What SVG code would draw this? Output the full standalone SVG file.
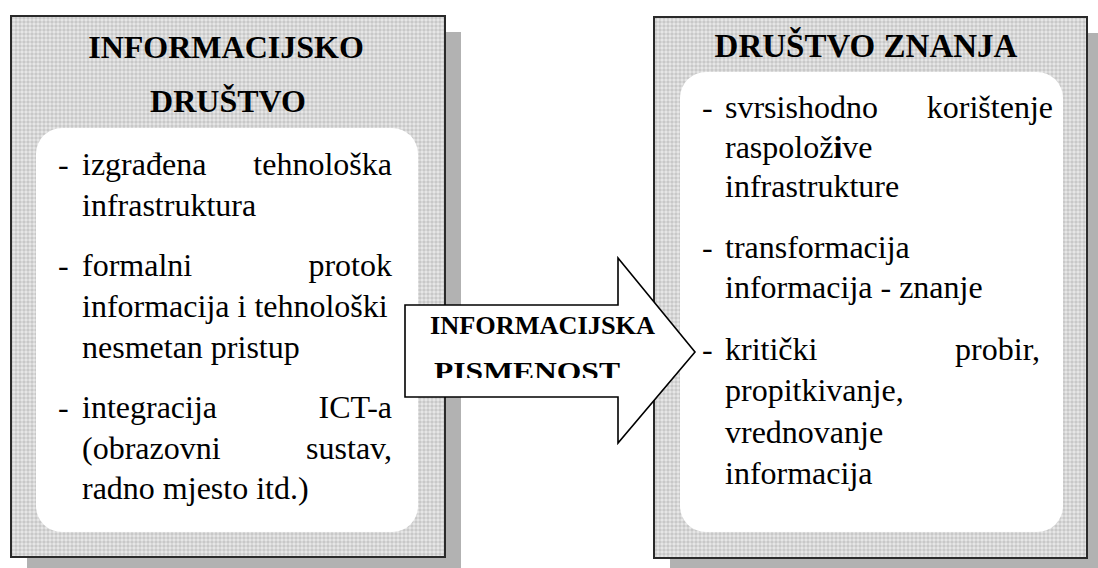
<svg xmlns="http://www.w3.org/2000/svg" width="1098" height="568" viewBox="0 0 1098 568">
  <defs>
    <pattern id="hatch" width="4" height="4" patternUnits="userSpaceOnUse">
      <rect width="4" height="4" fill="#e6e6e6"/>
      <path d="M0 0 L2 2 L0 4 Z M4 0 L2 2 L4 4 Z" fill="#c8c8c8"/>
    </pattern>
    <clipPath id="arrowTextClip">
      <rect x="406" y="306" width="290" height="72"/>
    </clipPath>
    <style>
      .shadow { fill: #b2b2b2; }
      .outer { fill: url(#hatch); stroke: #2a2a2a; stroke-width: 2; }
      .inner { fill: #ffffff; }
      .title { font-family: "Liberation Serif", "Times New Roman", serif; font-weight: bold; fill: #000; }
      .body { font-family: "Liberation Serif", "Times New Roman", serif; font-size: 32px; fill: #000; }
      .arrow { fill: #ffffff; stroke: #000; stroke-width: 1.6; stroke-linejoin: miter; }
      .alabel { font-family: "Liberation Serif", "Times New Roman", serif; font-weight: bold; font-size: 26px; fill: #000; }
    </style>
  </defs>

  <g id="node-informacijsko-drustvo">
    <rect class="shadow" x="27" y="32" width="434" height="545"/>
    <rect class="outer" x="11" y="16" width="434" height="541"/>
    <rect class="inner" x="36" y="128" width="382" height="404" rx="26" ry="26"/>
    <text class="title" font-size="32" x="226" y="58" text-anchor="middle">INFORMACIJSKO</text>
    <text class="title" font-size="32" x="228" y="112" text-anchor="middle">DRUŠTVO</text>
    <g class="body">
      <text x="58" y="175">-</text>
      <text x="82" y="175">izgrađena</text>
      <text x="392" y="175" text-anchor="end">tehnološka</text>
      <text x="82" y="216">infrastruktura</text>
      <text x="58" y="276">-</text>
      <text x="82" y="276">formalni</text>
      <text x="392" y="276" text-anchor="end">protok</text>
      <text x="82" y="317">informacija i tehnološki</text>
      <text x="82" y="358">nesmetan pristup</text>
      <text x="58" y="418">-</text>
      <text x="82" y="418">integracija</text>
      <text x="392" y="418" text-anchor="end">ICT-a</text>
      <text x="82" y="459">(obrazovni</text>
      <text x="392" y="459" text-anchor="end">sustav,</text>
      <text x="82" y="499">radno mjesto itd.)</text>
    </g>
  </g>

  <g id="node-drustvo-znanja">
    <rect class="shadow" x="670" y="33" width="434" height="545"/>
    <rect class="outer" x="654" y="17" width="433" height="541"/>
    <rect class="inner" x="680" y="72" width="383" height="460" rx="26" ry="26"/>
    <text class="title" font-size="33" x="866" y="57" text-anchor="middle">DRUŠTVO ZNANJA</text>
    <g class="body">
      <text x="702" y="118">-</text>
      <text x="725" y="118">svrsishodno</text>
      <text x="1053" y="118" text-anchor="end">korištenje</text>
      <text x="725" y="158">raspolož<tspan font-weight="bold">i</tspan>ve</text>
      <text x="725" y="197">infrastrukture</text>
      <text x="702" y="258">-</text>
      <text x="725" y="258">transformacija</text>
      <text x="725" y="298">informacija - znanje</text>
      <text x="702" y="360">-</text>
      <text x="725" y="360">kritički</text>
      <text x="1040" y="360" text-anchor="end">probir,</text>
      <text x="725" y="401">propitkivanje,</text>
      <text x="725" y="443">vrednovanje</text>
      <text x="725" y="484">informacija</text>
    </g>
  </g>

  <g id="connectors">
    <g id="arrow-informacijska-pismenost">
      <polygon class="arrow" points="405,305 618,305 618,258 695,352 618,443 618,397 405,397"/>
      <g clip-path="url(#arrowTextClip)">
        <text class="alabel" x="430" y="334" textLength="225" lengthAdjust="spacingAndGlyphs">INFORMACIJSKA</text>
        <text class="alabel" x="434" y="380" textLength="186" lengthAdjust="spacingAndGlyphs">PISMENOST</text>
      </g>
    </g>
  </g>
</svg>
